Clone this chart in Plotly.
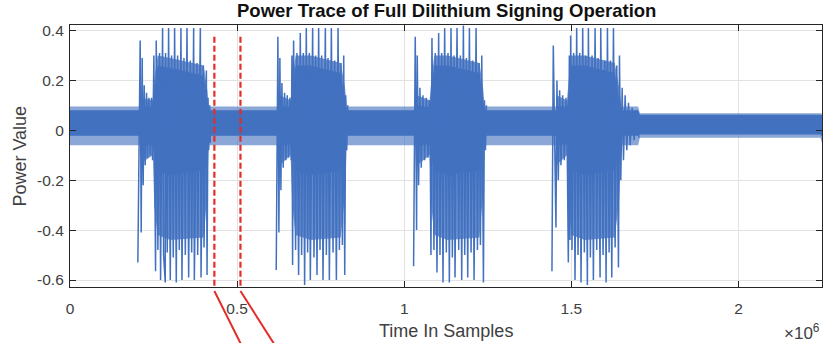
import plotly.graph_objects as go

# ---------------- data (x in units of 1e6 samples) ----------------
SCALE = 1e6
X_RANGE = [0.0, 2.25]
Y_RANGE = [-0.628, 0.422]
X_TICKS = [0, 0.5, 1, 1.5, 2]
X_TICK_LABELS = ["0", "0.5", "1", "1.5", "2"]
Y_TICKS = [-0.6, -0.4, -0.2, 0, 0.2, 0.4]
Y_TICK_LABELS = ["-0.6", "-0.4", "-0.2", "0", "0.2", "0.4"]

# quiet baseline band (envelopes)
BAND_X = [0.0, 1.70, 1.705, 2.245, 2.25]
BAND_CORE_HI = [0.080, 0.080, 0.062, 0.062, 0.060]
BAND_CORE_LO = [-0.022, -0.022, -0.017, -0.017, -0.025]
BAND_FRINGE_HI = [0.095, 0.095, 0.068, 0.068, 0.066]
BAND_FRINGE_LO = [-0.060, -0.060, -0.030, -0.030, -0.050]

# burst 1 : extremes of the trace, in order
B1_X = [0.203, 0.210, 0.213, 0.216, 0.219, 0.222, 0.225, 0.229, 0.232, 0.236, 0.240, 0.244, 0.247,
        0.251, 0.256, 0.258, 0.263, 0.268, 0.271, 0.277, 0.280, 0.285, 0.286, 0.291, 0.295, 0.300,
        0.304, 0.309, 0.313, 0.318, 0.322, 0.327, 0.332, 0.335, 0.341, 0.345, 0.350, 0.355, 0.360,
        0.364, 0.370, 0.372, 0.380, 0.382, 0.390, 0.392, 0.399, 0.401, 0.408, 0.410, 0.413, 0.415,
        0.418, 0.420]
B1_Y = [-0.53, 0.36, -0.41, 0.29, -0.22, 0.18, -0.14, 0.15, -0.11, 0.13, -0.10, 0.13, -0.12,
        0.30, -0.565, 0.36, -0.48, 0.31, -0.60, 0.41, -0.50, -0.61, 0.31, -0.49, 0.41, -0.60,
        0.30, -0.51, 0.41, -0.61, 0.30, -0.48, 0.41, -0.60, 0.29, -0.50, 0.41, -0.59, 0.28,
        -0.49, 0.41, -0.60, 0.27, -0.50, 0.41, -0.59, 0.26, -0.47, 0.24, -0.58, 0.13, -0.08,
        0.10, -0.05]
B1_BODY_X = [0.214, 0.248, 0.252, 0.262, 0.300, 0.400, 0.411, 0.415]
B1_BODY_HI = [0.13, 0.12, 0.20, 0.30, 0.29, 0.26, 0.16, 0.09]
B1_BODY_LO = [-0.13, -0.10, -0.30, -0.42, -0.44, -0.43, -0.25, -0.04]
B1_CORE_HI = [0.10, 0.09, 0.15, 0.26, 0.25, 0.22, 0.12, 0.07]
B1_CORE_LO = [-0.06, -0.05, -0.10, -0.16, -0.18, -0.16, -0.08, -0.02]

# burst 2
B2_X = [0.617, 0.622, 0.625, 0.628, 0.631, 0.634, 0.638, 0.642, 0.646, 0.650, 0.654, 0.658, 0.662,
        0.664, 0.666, 0.669, 0.675, 0.679, 0.684, 0.689, 0.693, 0.698, 0.702, 0.707, 0.711, 0.716,
        0.719, 0.726, 0.730, 0.735, 0.739, 0.744, 0.748, 0.753, 0.757, 0.764, 0.767, 0.772, 0.776,
        0.782, 0.787, 0.792, 0.797, 0.802, 0.806, 0.811, 0.815, 0.819, 0.822, 0.825, 0.828, 0.831]
B2_Y = [-0.56, 0.375, -0.41, 0.29, -0.24, 0.19, -0.15, 0.15, -0.12, 0.14, -0.11, 0.13, -0.12,
        0.30, -0.54, 0.36, -0.48, 0.31, -0.58, 0.39, -0.50, 0.31, -0.62, 0.41, -0.49, 0.31,
        -0.60, 0.41, -0.51, 0.30, -0.58, 0.41, -0.48, 0.30, -0.60, 0.41, -0.50, 0.29, -0.60,
        0.41, -0.49, 0.28, -0.60, 0.41, -0.48, 0.27, -0.46, 0.30, -0.58, 0.14, -0.08, 0.10]
B2_BODY_X = [0.627, 0.660, 0.665, 0.675, 0.720, 0.810, 0.823, 0.828]
B2_BODY_HI = [0.14, 0.12, 0.20, 0.30, 0.30, 0.27, 0.17, 0.09]
B2_BODY_LO = [-0.14, -0.10, -0.30, -0.42, -0.44, -0.43, -0.25, -0.04]
B2_CORE_HI = [0.10, 0.09, 0.15, 0.26, 0.26, 0.23, 0.12, 0.07]
B2_CORE_LO = [-0.06, -0.05, -0.10, -0.16, -0.18, -0.16, -0.08, -0.02]

# burst 3
B3_X = [1.028, 1.033, 1.037, 1.039, 1.043, 1.047, 1.051, 1.056, 1.061, 1.066, 1.071, 1.075, 1.078,
        1.080, 1.083, 1.089, 1.093, 1.098, 1.103, 1.107, 1.112, 1.116, 1.121, 1.126, 1.131, 1.135,
        1.140, 1.144, 1.149, 1.152, 1.158, 1.163, 1.168, 1.172, 1.177, 1.181, 1.186, 1.190, 1.195,
        1.200, 1.205, 1.209, 1.215, 1.219, 1.224, 1.228, 1.232, 1.237, 1.240, 1.243, 1.246]
B3_Y = [-0.545, 0.375, -0.40, 0.30, -0.22, 0.17, -0.15, 0.14, -0.12, 0.13, -0.11, 0.12, -0.10,
        -0.50, 0.37, -0.48, 0.31, -0.57, 0.39, -0.50, 0.31, -0.61, 0.41, -0.49, 0.31, -0.61,
        0.41, -0.51, 0.30, -0.59, 0.41, -0.48, 0.30, -0.60, 0.42, -0.50, 0.29, -0.59, 0.41,
        -0.49, 0.28, -0.60, 0.41, -0.48, 0.27, -0.46, 0.30, -0.61, 0.12, -0.08, 0.10]
B3_BODY_X = [1.038, 1.076, 1.081, 1.090, 1.130, 1.225, 1.236, 1.241]
B3_BODY_HI = [0.14, 0.12, 0.20, 0.30, 0.30, 0.27, 0.17, 0.09]
B3_BODY_LO = [-0.14, -0.10, -0.30, -0.42, -0.44, -0.43, -0.25, -0.04]
B3_CORE_HI = [0.10, 0.09, 0.15, 0.26, 0.26, 0.23, 0.12, 0.07]
B3_CORE_LO = [-0.06, -0.05, -0.10, -0.16, -0.18, -0.16, -0.08, -0.02]

# burst 4 (with the decaying tail)
B4_X = [1.442, 1.446, 1.454, 1.457, 1.461, 1.465, 1.469, 1.474, 1.479, 1.484, 1.488,
        1.491, 1.494, 1.496, 1.498, 1.502, 1.507, 1.511, 1.516, 1.520, 1.525, 1.529, 1.534,
        1.539, 1.543, 1.548, 1.551, 1.557, 1.562, 1.566, 1.571, 1.576, 1.580, 1.586, 1.588,
        1.595, 1.600, 1.604, 1.608, 1.613, 1.617, 1.621, 1.626, 1.631, 1.636, 1.641, 1.644,
        1.648, 1.652, 1.656, 1.661, 1.666, 1.671, 1.676, 1.682, 1.688, 1.695, 1.702]
B4_Y = [-0.565, 0.34, -0.39, 0.20, -0.20, 0.16, -0.14, 0.14, -0.12, 0.13, -0.11,
        -0.53, 0.30, -0.44, 0.38, -0.48, 0.31, -0.60, 0.41, -0.50, 0.31, -0.61, 0.41,
        -0.49, 0.30, -0.62, 0.41, -0.51, 0.30, -0.60, 0.41, -0.48, 0.29, -0.59, 0.41,
        -0.50, 0.28, -0.61, 0.41, -0.49, 0.28, -0.59, 0.41, -0.47, 0.26, -0.55, 0.30,
        -0.20, 0.17, -0.12, 0.14, -0.08, 0.11, -0.06, 0.09, -0.04, 0.08, -0.03]
B4_BODY_X = [1.455, 1.487, 1.492, 1.500, 1.540, 1.630, 1.643, 1.650]
B4_BODY_HI = [0.14, 0.12, 0.20, 0.30, 0.30, 0.27, 0.17, 0.10]
B4_BODY_LO = [-0.14, -0.10, -0.30, -0.42, -0.44, -0.43, -0.28, -0.06]
B4_CORE_HI = [0.10, 0.09, 0.15, 0.26, 0.26, 0.23, 0.12, 0.08]
B4_CORE_LO = [-0.06, -0.05, -0.10, -0.16, -0.18, -0.16, -0.08, -0.03]

# zoom-window markers
MARK_X = [0.432, 0.510]
MARK_TOP = 0.375
LEADER_X_END = [0.520, 0.622]

BLUE = "rgb(66,113,192)"
BLUE_SEMI = "rgba(66,113,192,0.62)"
BLUE_BODY = "rgba(66,113,192,0.78)"
RED = "rgb(226,45,40)"
FONT = "Liberation Sans, Arial, Helvetica, sans-serif"


def band_polygon(xs, hi, lo):
    px = [x * SCALE for x in xs] + [x * SCALE for x in xs[::-1]]
    py = list(hi) + list(lo[::-1])
    return px, py


def add_fill(fig, xs, hi, lo, color):
    px, py = band_polygon(xs, hi, lo)
    fig.add_trace(go.Scatter(x=px, y=py, fill="toself", fillcolor=color, mode="none",
                             hoverinfo="skip", showlegend=False))


fig = go.Figure()

# baseline fringe + core
add_fill(fig, BAND_X, BAND_FRINGE_HI, BAND_FRINGE_LO, BLUE_SEMI)
add_fill(fig, BAND_X, BAND_CORE_HI, BAND_CORE_LO, BLUE)

# burst bodies (outer comb region, then dense core)
bodies = [(B1_BODY_X, B1_BODY_HI, B1_BODY_LO, B1_CORE_HI, B1_CORE_LO),
          (B2_BODY_X, B2_BODY_HI, B2_BODY_LO, B2_CORE_HI, B2_CORE_LO),
          (B3_BODY_X, B3_BODY_HI, B3_BODY_LO, B3_CORE_HI, B3_CORE_LO),
          (B4_BODY_X, B4_BODY_HI, B4_BODY_LO, B4_CORE_HI, B4_CORE_LO)]
for bx, bh, bl, ch, cl in bodies:
    add_fill(fig, bx, bh, bl, BLUE_BODY)
    add_fill(fig, bx, ch, cl, BLUE)

# burst traces
tx, ty = [], []
for bx, by in [(B1_X, B1_Y), (B2_X, B2_Y), (B3_X, B3_Y), (B4_X, B4_Y)]:
    tx += [x * SCALE for x in bx] + [None]
    ty += list(by) + [None]
fig.add_trace(go.Scatter(x=tx, y=ty, mode="lines", line=dict(color=BLUE, width=1.5),
                         hoverinfo="skip", showlegend=False))

shapes = []
for mx in MARK_X:
    shapes.append(dict(type="line", xref="x", yref="y", x0=mx * SCALE, x1=mx * SCALE,
                       y0=MARK_TOP, y1=Y_RANGE[0], line=dict(color=RED, width=2.2, dash="6px,3px")))
for mx, ex in zip(MARK_X, LEADER_X_END):
    shapes.append(dict(type="line", xref="x", yref="paper", x0=mx * SCALE, x1=ex * SCALE,
                       y0=-0.015, y1=-0.24, line=dict(color=RED, width=2)))

axis_common = dict(ticks="inside", ticklen=6, tickwidth=1, tickcolor="#262626",
                   showline=True, linecolor="#262626", linewidth=1.2, mirror="ticks",
                   showgrid=True, gridcolor="#e2e2e2", gridwidth=1, zeroline=False,
                   tickfont=dict(family=FONT, size=15.5, color="#404040"))

fig.update_xaxes(range=[X_RANGE[0] * SCALE, X_RANGE[1] * SCALE], ticklabelstandoff=7,
                 tickvals=[v * SCALE for v in X_TICKS], ticktext=X_TICK_LABELS, **axis_common)
fig.update_yaxes(range=Y_RANGE, tickvals=Y_TICKS, ticktext=Y_TICK_LABELS, ticklabelstandoff=2,
                 **axis_common)

fig.update_layout(
    width=824, height=343,
    margin=dict(l=70, r=2, t=25, b=56),
    plot_bgcolor="white", paper_bgcolor="white",
    shapes=shapes,
    annotations=[
        dict(text="<b>Power Trace of Full Dilithium Signing Operation</b>", xref="paper", yref="paper",
             x=0.5, y=1.057, xanchor="center", yanchor="middle", showarrow=False,
             font=dict(family=FONT, size=18.5, color="#111111")),
        dict(text="Time In Samples", xref="paper", yref="paper", x=0.5, y=-0.167,
             xanchor="center", yanchor="middle", showarrow=False,
             font=dict(family=FONT, size=18, color="#404040")),
        dict(text="Power Value", xref="paper", yref="paper", x=-0.067, y=0.5, textangle=-90,
             xanchor="center", yanchor="middle", showarrow=False,
             font=dict(family=FONT, size=18, color="#404040")),
        dict(text="×10<sup>6</sup>", xref="paper", yref="paper", x=1.0, y=-0.17,
             xanchor="right", yanchor="middle", showarrow=False,
             font=dict(family=FONT, size=17, color="#404040")),
    ],
)

fig.write_html("out.html")
